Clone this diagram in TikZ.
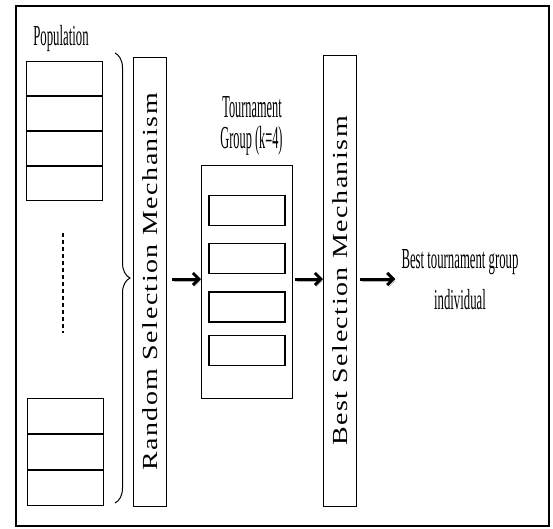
\documentclass[tikz,border=0pt]{standalone}
\usepackage{fontspec}
\setmainfont{Liberation Serif}
\newfontfamily\narrowfont{Liberation Serif}[FakeStretch=0.44]
\newfontfamily\tallfont{Liberation Serif}[FakeStretch=0.385]
\newfontfamily\widefont{Liberation Serif}[FakeStretch=1.3, LetterSpace=7]
\usetikzlibrary{positioning,arrows.meta,decorations.pathreplacing}
\tikzset{
  cell/.style     = {draw, line width=1pt, rectangle, minimum width=76pt, minimum height=34pt, inner sep=0pt},
  member/.style   = {draw, line width=1.2pt, rectangle, minimum width=76pt, minimum height=30pt, inner sep=0pt},
  group/.style    = {draw, line width=1pt, rectangle, minimum width=91pt, minimum height=233pt},
  selbox/.style   = {draw, line width=1pt, rectangle, rotate=90, minimum width=449pt, minimum height=33pt, inner sep=0pt, text depth=0pt, font=\widefont\fontsize{21.5}{25}\selectfont},
  heading/.style  = {font=\narrowfont\fontsize{29}{41}\selectfont, align=center, inner sep=2pt},
  tallhead/.style = {font=\tallfont\fontsize{32}{36}\selectfont, inner sep=2pt},
  flow/.style     = {line width=3pt, -{Straight Barb[length=6pt,width=12pt]}, preaction={draw=black!30, transform canvas={shift={(1.5pt,-2pt)}}}}
}

\begin{document}
\begin{tikzpicture}[x=1pt, y=-1pt]
\useasboundingbox (0,0) rectangle (553,528);

% Frame
\draw[line width=2.5pt] (16,6) rectangle (549,526);

% Population
\node [heading, anchor=base] (pop) at (61,45.5) {Population};
\node [cell, anchor=north] (p1) at (64,61) {};
\node [cell, below=0pt of p1] (p2) {};
\node [cell, below=0pt of p2] (p3) {};
\node [cell, below=0pt of p3] (p4) {};
\draw[line width=1.5pt, dash pattern=on 4pt off 3pt] (63,233) -- (63,333);
\node [cell, anchor=north, minimum height=35pt] (p5) at (65,398) {};
\node [cell, minimum height=35pt, below=0pt of p5] (p6) {};
\node [cell, minimum height=35pt, below=0pt of p6] (p7) {};
\draw[decorate, decoration={brace, amplitude=15pt}, line width=1pt] (115,53) -- (115,503);

% Selection mechanisms
\node [selbox] (rsm) at (150,282) {Random Selection Mechanism};
\node [selbox, minimum width=451pt] (bsm) at (340,281) {Best Selection Mechanism};

% Tournament group
\node [tallhead, anchor=base] (tname1) at (252,117) {Tournament};
\node [tallhead, anchor=base] (tname2) at (251.5,148) {Group (k=4)};
\node [group] (grp) at (247,282) {};
\node [member, anchor=north] (m1) at (247,195) {};
\node [member, below=17pt of m1] (m2) {};
\node [member, below=17pt of m2] (m3) {};
\node [member, below=12pt of m3] (m4) {};

% Result
\node [heading] (res) at (460,280) {Best tournament group\\individual};

% Connections
\draw[flow] ([shift={(5pt,3pt)}]rsm.south) -- ([yshift=3pt]grp.west);
\draw[flow] ([shift={(2pt,3pt)}]grp.east) -- ([yshift=2pt]bsm.north);
\draw[flow] ([shift={(3pt,2pt)}]bsm.south) -- ([shift={(-4pt,1pt)}]res.west);

\end{tikzpicture}
\end{document}
